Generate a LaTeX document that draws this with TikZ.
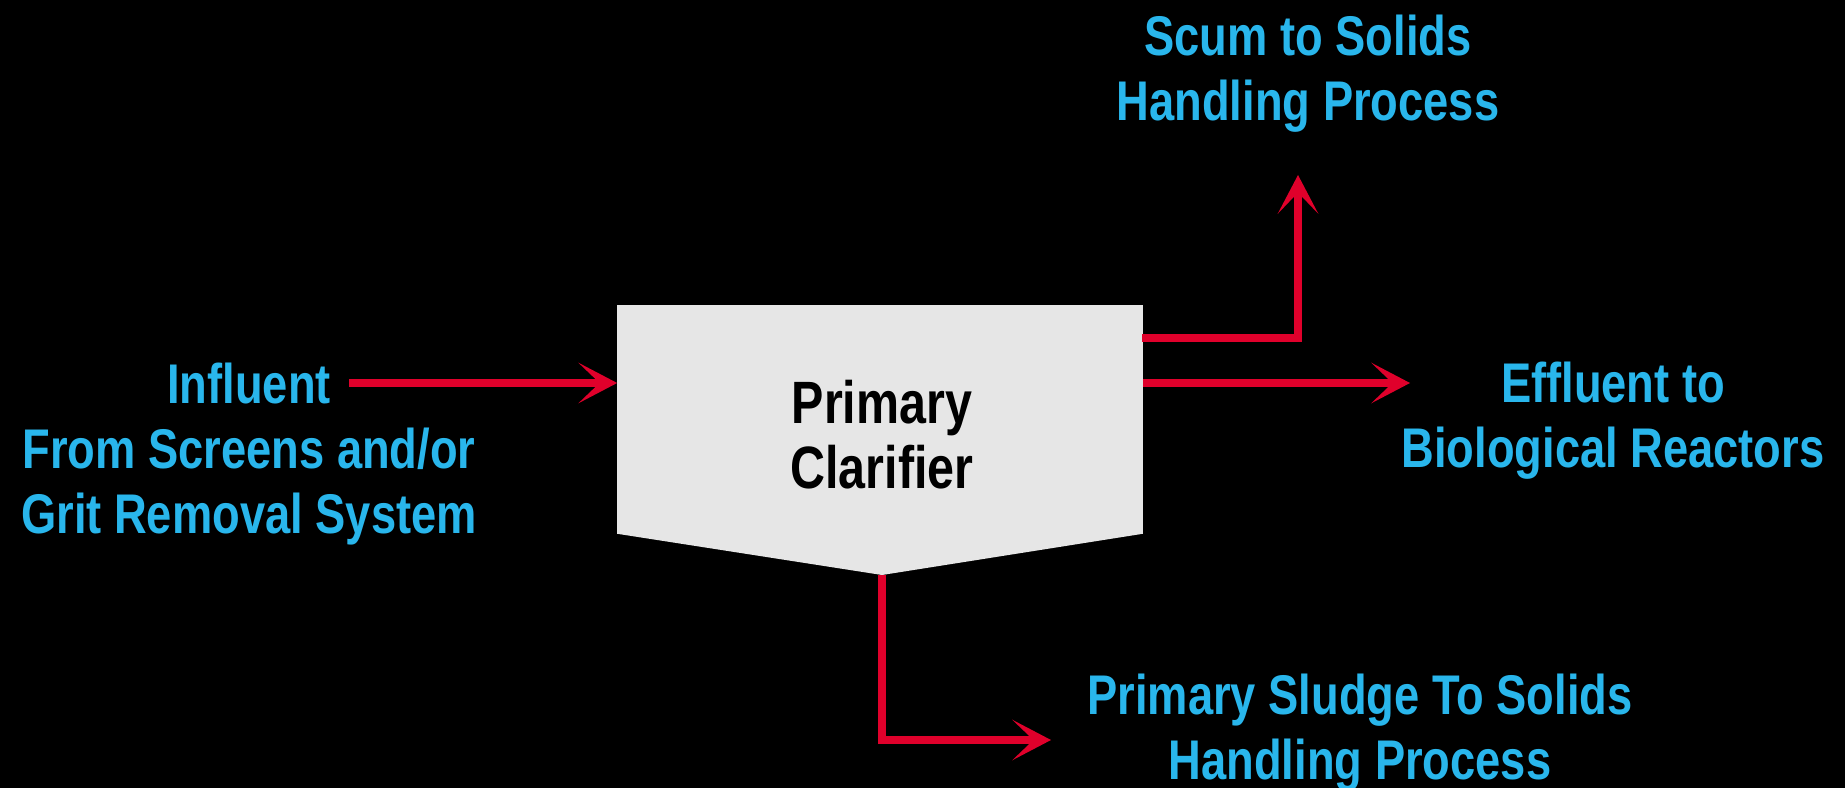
\documentclass[tikz,border=0pt]{standalone}
\usepackage{fontspec}
\setmainfont[FakeStretch=0.81]{Liberation Sans}
\usetikzlibrary{arrows.meta}

\definecolor{flowred}{RGB}{224,0,43}
\definecolor{labelblue}{RGB}{41,182,236}
\definecolor{tankgrey}{RGB}{230,230,230}

\tikzset{
    flow/.style={draw=flowred, line width=2.4pt, -{Stealth[length=11pt, width=11.5pt, inset=6pt]}},
    streamlabel/.style={text=labelblue, align=center, inner sep=0pt, font=\bfseries\fontsize{15.9}{18.5}\selectfont},
}

\begin{document}
\begin{tikzpicture}[x=0.01cm, y=-0.01cm]

    \fill[black] (0, 0) rectangle (1845, 788);
    \useasboundingbox (0, 0) rectangle (1845, 788);

    \node[minimum width=5.24cm, minimum height=2.27cm, inner sep=0pt] (tank) at (880, 419.5) {};
    \coordinate (tanktip) at (882, 575);
    \fill[tankgrey] (tank.north west) -- (tank.north east) -- (tank.south east) -- (tanktip) -- (tank.south west) -- cycle;
    \node[inner sep=0pt, align=center, font=\bfseries\fontsize{17}{18.5}\selectfont] (tanklabel) at (882, 435) {Primary\\Clarifier};

    \node[streamlabel] (influent) at (249, 454) {Influent\\From Screens and/or\\Grit Removal System};
    \node[streamlabel] (scum) at (1308, 74) {Scum to Solids\\Handling Process};
    \node[streamlabel] (effluent) at (1613, 421) {Effluent to\\Biological Reactors};
    \node[streamlabel] (sludge) at (1360, 733) {Primary Sludge To Solids\\Handling Process};

    \coordinate (influentend) at (349, 383);
    \coordinate (scumport) at (1142, 338);
    \coordinate (scumtip) at (1298, 175);
    \coordinate (effluenttip) at (1410, 383);
    \coordinate (sludgetip) at (1051, 740);

    \draw[flow] (influentend) -- (tank.west |- influentend);
    \draw[flow] (scumport) -| (scumtip);
    \draw[flow] (tank.east |- influentend) -- (effluenttip);
    \draw[flow] (tanktip) |- (sludgetip);

\end{tikzpicture}
\end{document}
